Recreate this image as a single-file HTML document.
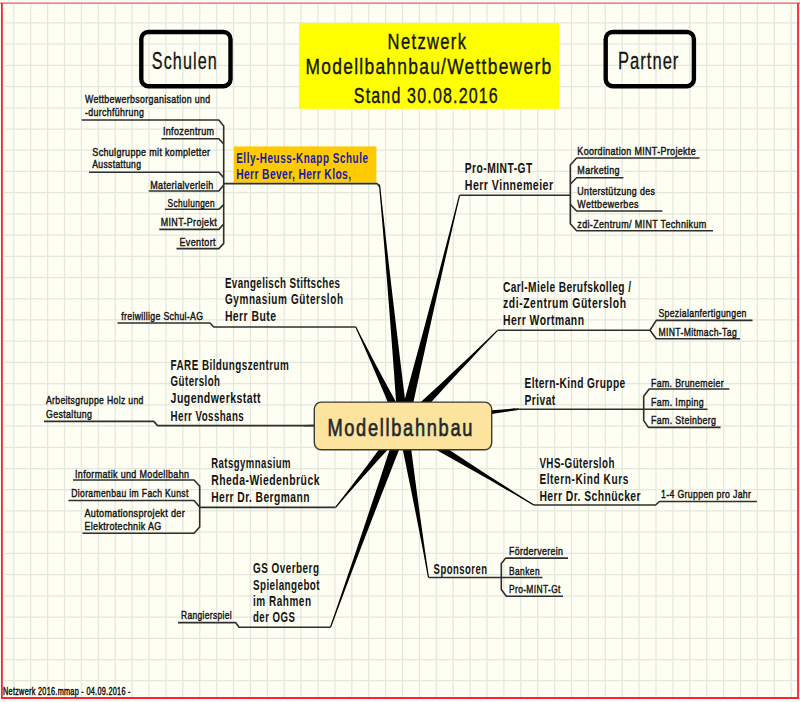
<!DOCTYPE html>
<html><head><meta charset="utf-8"><style>
html,body{margin:0;padding:0;background:#f4fff8;width:800px;height:702px;overflow:hidden;font-family:"Liberation Sans",sans-serif}
</style></head><body><svg width="800" height="702" viewBox="0 0 800 702" style="display:block;position:absolute;left:0;top:0"><rect x="2" y="3" width="796" height="695" fill="#fefef2"/><path d="M13.80 4V697 M30.70 4V697 M47.60 4V697 M64.50 4V697 M81.40 4V697 M98.30 4V697 M115.20 4V697 M132.10 4V697 M149.00 4V697 M165.90 4V697 M182.80 4V697 M199.70 4V697 M216.60 4V697 M233.50 4V697 M250.40 4V697 M267.30 4V697 M284.20 4V697 M301.10 4V697 M318.00 4V697 M334.90 4V697 M351.80 4V697 M368.70 4V697 M385.60 4V697 M402.50 4V697 M419.40 4V697 M436.30 4V697 M453.20 4V697 M470.10 4V697 M487.00 4V697 M503.90 4V697 M520.80 4V697 M537.70 4V697 M554.60 4V697 M571.50 4V697 M588.40 4V697 M605.30 4V697 M622.20 4V697 M639.10 4V697 M656.00 4V697 M672.90 4V697 M689.80 4V697 M706.70 4V697 M723.60 4V697 M740.50 4V697 M757.40 4V697 M774.30 4V697 M791.20 4V697 M4 22.90H797 M4 44.12H797 M4 65.34H797 M4 86.56H797 M4 107.78H797 M4 129.00H797 M4 150.22H797 M4 171.44H797 M4 192.66H797 M4 213.88H797 M4 235.10H797 M4 256.32H797 M4 277.54H797 M4 298.76H797 M4 319.98H797 M4 341.20H797 M4 362.42H797 M4 383.64H797 M4 404.86H797 M4 426.08H797 M4 447.30H797 M4 468.52H797 M4 489.74H797 M4 510.96H797 M4 532.18H797 M4 553.40H797 M4 574.62H797 M4 595.84H797 M4 617.06H797 M4 638.28H797 M4 659.50H797 M4 680.72H797" stroke="#e3e8df" stroke-width="1.25" fill="none"/><path d="M0 3.1H800" stroke="#ff5555" stroke-width="1.4"/><path d="M1.9 3V699M798 3V699" stroke="#ff2030" stroke-width="1.8"/><path d="M1 698H799" stroke="#ff2030" stroke-width="1.8"/><rect x="299" y="22.9" width="260" height="85.9" fill="#ffff00"/><rect x="141.3" y="32" width="89.2" height="54.2" rx="7" fill="none" stroke="#000" stroke-width="4.4"/><rect x="605.7" y="32" width="88.2" height="54.2" rx="7" fill="none" stroke="#000" stroke-width="4.4"/><polygon points="380.10,184.44 382.20,204.51 384.39,224.57 386.63,244.63 388.91,264.68 391.23,284.73 393.58,304.77 395.96,324.82 398.36,344.86 400.78,364.89 403.23,384.93 405.69,404.96 408.18,425.00 397.82,426.00 396.39,405.87 394.94,385.74 393.47,365.61 391.97,345.48 390.46,325.35 388.92,305.23 387.35,285.11 385.75,264.99 384.12,244.87 382.45,224.76 380.72,204.66 378.90,184.56" fill="#000"/><polygon points="460.08,195.44 455.51,214.66 451.03,233.90 446.60,253.15 442.21,272.41 437.85,291.68 433.53,310.96 429.22,330.24 424.95,349.53 420.69,368.83 416.46,388.13 412.25,407.43 408.05,426.74 397.95,424.26 403.17,405.20 408.37,386.14 413.56,367.07 418.72,348.00 423.86,328.92 428.97,309.84 434.06,290.75 439.12,271.65 444.15,252.55 449.14,233.43 454.07,214.31 458.92,195.16" fill="#000"/><polygon points="356.34,326.74 360.40,334.89 364.55,343.00 368.74,351.08 372.97,359.15 377.23,367.20 381.51,375.24 385.82,383.26 390.16,391.28 394.51,399.29 398.89,407.28 403.28,415.27 407.69,423.25 398.31,427.75 394.85,419.31 391.38,410.88 387.89,402.46 384.37,394.05 380.84,385.65 377.29,377.26 373.71,368.88 370.10,360.52 366.46,352.17 362.79,343.84 359.06,335.53 355.26,327.26" fill="#000"/><polygon points="498.03,330.72 490.24,338.76 482.52,346.85 474.84,354.99 467.19,363.15 459.57,371.34 451.96,379.55 444.38,387.78 436.81,396.03 429.26,404.29 421.72,412.57 414.20,420.86 406.69,429.17 399.31,421.83 407.57,414.27 415.81,406.70 424.04,399.11 432.26,391.51 440.46,383.89 448.64,376.25 456.80,368.59 464.94,360.91 473.06,353.21 481.14,345.48 489.19,337.71 497.17,329.88" fill="#000"/><polygon points="304.00,425.00 312.25,424.85 320.50,424.61 328.75,424.31 337.00,423.98 345.25,423.61 353.50,423.21 361.75,422.78 370.00,422.33 378.25,421.85 386.50,421.35 394.75,420.84 402.99,420.30 403.01,430.70 394.75,430.18 386.50,429.68 378.25,429.20 370.00,428.74 361.75,428.30 353.50,427.89 345.25,427.51 337.00,427.15 328.75,426.84 320.50,426.56 312.25,426.33 304.00,426.20" fill="#000"/><polygon points="515.09,409.59 505.77,411.11 496.48,412.71 487.18,414.37 477.90,416.07 468.62,417.80 459.34,419.57 450.07,421.36 440.80,423.17 431.54,425.01 422.27,426.87 413.01,428.75 403.76,430.64 402.24,420.36 411.65,419.50 421.06,418.63 430.46,417.74 439.87,416.83 449.26,415.89 458.66,414.93 468.05,413.95 477.44,412.93 486.82,411.88 496.19,410.79 505.56,409.64 514.91,408.41" fill="#000"/><polygon points="335.14,506.92 340.64,500.01 346.08,493.05 351.48,486.05 356.84,479.02 362.18,471.98 367.49,464.91 372.78,457.83 378.06,450.73 383.31,443.61 388.55,436.49 393.78,429.35 398.99,422.19 407.01,428.81 400.99,435.29 394.98,441.78 388.99,448.29 383.01,454.81 377.05,461.34 371.11,467.89 365.19,474.46 359.29,481.04 353.42,487.65 347.59,494.29 341.79,500.96 336.06,507.68" fill="#000"/><polygon points="533.49,505.51 522.51,499.01 511.49,492.58 500.45,486.20 489.38,479.86 478.29,473.54 467.18,467.25 456.06,460.99 444.93,454.74 433.79,448.52 422.64,442.31 411.47,436.12 400.30,429.94 405.70,421.06 416.33,428.13 426.96,435.19 437.61,442.23 448.27,449.26 458.94,456.26 469.62,463.25 480.31,470.21 491.02,477.14 501.75,484.05 512.51,490.92 523.29,497.74 534.11,504.49" fill="#000"/><polygon points="329.94,627.00 335.84,610.14 341.67,593.25 347.44,576.35 353.17,559.43 358.87,542.50 364.55,525.56 370.19,508.61 375.81,491.65 381.42,474.68 387.00,457.71 392.56,440.73 398.11,423.74 407.89,427.26 401.36,443.89 394.83,460.53 388.33,477.17 381.85,493.82 375.39,510.48 368.95,527.14 362.54,543.82 356.16,560.50 349.81,577.20 343.50,593.91 337.24,610.64 331.06,627.40" fill="#000"/><polygon points="427.91,577.60 425.64,564.96 423.29,552.33 420.88,539.71 418.43,527.10 415.95,514.49 413.44,501.89 410.90,489.29 408.34,476.70 405.75,464.11 403.14,451.52 400.52,438.94 397.87,426.36 408.13,424.64 409.73,437.39 411.36,450.14 413.00,462.89 414.66,475.64 416.35,488.38 418.06,501.11 419.80,513.84 421.57,526.57 423.37,539.29 425.21,552.01 427.11,564.71 429.09,577.40" fill="#000"/><polygon points="488,410.6 518.5,408.3 518.5,410 488,414.6" fill="#000"/><rect x="314.3" y="402.1" width="177.4" height="47.6" rx="7" fill="#fce39e" stroke="#3a3a3a" stroke-width="1.4"/><rect x="233.9" y="146.4" width="142.5" height="36.3" fill="#ffcb00"/><path d="M223.6 183.6H377L379.5 186.5" stroke="#2e2e2e" stroke-width="1.6" fill="none" stroke-linejoin="round"/><path d="M81.7 120H218.8L223.7 126V243.4L218.8 248.6H176.5" stroke="#2e2e2e" stroke-width="1.6" fill="none" stroke-linejoin="round"/><path d="M161.4 138.8H218.8L223.7 144" stroke="#2e2e2e" stroke-width="1.6" fill="none" stroke-linejoin="round"/><path d="M89 172.2H218.8L223.7 177.6" stroke="#2e2e2e" stroke-width="1.6" fill="none" stroke-linejoin="round"/><path d="M148.75 191H218.8L223.7 185" stroke="#2e2e2e" stroke-width="1.6" fill="none" stroke-linejoin="round"/><path d="M164.8 209.3H218.8L223.7 204.6" stroke="#2e2e2e" stroke-width="1.6" fill="none" stroke-linejoin="round"/><path d="M159.25 229.4H218.8L223.7 224" stroke="#2e2e2e" stroke-width="1.6" fill="none" stroke-linejoin="round"/><path d="M459.5 195.3H570.3" stroke="#2e2e2e" stroke-width="1.6" fill="none" stroke-linejoin="round"/><path d="M699.5 158H576.6L570.3 165V223.7L576.6 230.8H713" stroke="#2e2e2e" stroke-width="1.6" fill="none" stroke-linejoin="round"/><path d="M623.4 177.8H576.6L570.3 184.3" stroke="#2e2e2e" stroke-width="1.6" fill="none" stroke-linejoin="round"/><path d="M570.3 204.3L576.6 211H662.4" stroke="#2e2e2e" stroke-width="1.6" fill="none" stroke-linejoin="round"/><path d="M355.8 327H213.75L210 323H117.5" stroke="#2e2e2e" stroke-width="1.6" fill="none" stroke-linejoin="round"/><path d="M497.6 330.3H650L656.25 320.4H752.5M650 330.3L656.25 338.75H740" stroke="#2e2e2e" stroke-width="1.6" fill="none" stroke-linejoin="round"/><path d="M314 425.6H157.5L153.75 421.4H44" stroke="#2e2e2e" stroke-width="1.6" fill="none" stroke-linejoin="round"/><path d="M517 409.2H707.5" stroke="#2e2e2e" stroke-width="1.6" fill="none" stroke-linejoin="round"/><path d="M729.4 389H649.2L643.7 396.3V420.6L648.4 427.4H720.6" stroke="#2e2e2e" stroke-width="1.6" fill="none" stroke-linejoin="round"/><path d="M335.6 507.4H199.7" stroke="#2e2e2e" stroke-width="1.6" fill="none" stroke-linejoin="round"/><path d="M73 480H194L199.7 486V527L194 533.2H82.5" stroke="#2e2e2e" stroke-width="1.6" fill="none" stroke-linejoin="round"/><path d="M68.4 500.5H194L199.7 507" stroke="#2e2e2e" stroke-width="1.6" fill="none" stroke-linejoin="round"/><path d="M533.8 505H655.6L659.4 501.5H756.9" stroke="#2e2e2e" stroke-width="1.6" fill="none" stroke-linejoin="round"/><path d="M330.5 627.2H239L235.6 622.6H178" stroke="#2e2e2e" stroke-width="1.6" fill="none" stroke-linejoin="round"/><path d="M428.5 577.5H542.4" stroke="#2e2e2e" stroke-width="1.6" fill="none" stroke-linejoin="round"/><path d="M568 558.1H505.8L501.3 563.5V589.5L506.3 596.2H563" stroke="#2e2e2e" stroke-width="1.6" fill="none" stroke-linejoin="round"/><g font-family="Liberation Sans, sans-serif"><text transform="translate(387.60 48.60) scale(0.7445 1)" font-size="22.24" font-weight="normal" fill="#141414" stroke="#141414" stroke-width="0.40" textLength="105.31" lengthAdjust="spacing">Netzwerk</text><text transform="translate(305.60 74.00) scale(0.7814 1)" font-size="22.24" font-weight="normal" fill="#141414" stroke="#141414" stroke-width="0.40" textLength="314.20" lengthAdjust="spacing">Modellbahnbau/Wettbewerb</text><text transform="translate(353.80 102.60) scale(0.7217 1)" font-size="22.24" font-weight="normal" fill="#141414" stroke="#141414" stroke-width="0.40" textLength="199.52" lengthAdjust="spacing">Stand 30.08.2016</text><text transform="translate(151.80 68.60) scale(0.6710 1)" font-size="24.13" font-weight="normal" fill="#141414" stroke="#141414" stroke-width="0.30" textLength="96.88" lengthAdjust="spacing">Schulen</text><text transform="translate(618.00 68.50) scale(0.6871 1)" font-size="24.13" font-weight="normal" fill="#141414" stroke="#141414" stroke-width="0.30" textLength="87.91" lengthAdjust="spacing">Partner</text><text transform="translate(327.40 436.20) scale(0.7380 1)" font-size="24.71" font-weight="normal" fill="#1e2a2e" stroke="#1e2a2e" stroke-width="0.70" textLength="196.48" lengthAdjust="spacing">Modellbahnbau</text><text transform="translate(236.20 163.00) scale(0.6806 1)" font-size="14.53" font-weight="bold" fill="#1a1aa0" textLength="193.65" lengthAdjust="spacing">Elly-Heuss-Knapp  Schule</text><text transform="translate(236.20 179.40) scale(0.7067 1)" font-size="14.53" font-weight="bold" fill="#1a1aa0" textLength="162.45" lengthAdjust="spacing">Herr Bever, Herr Klos,</text><text transform="translate(84.90 102.50) scale(0.8091 1)" font-size="10.90" font-weight="normal" fill="#141414" stroke="#141414" stroke-width="0.42" textLength="154.85" lengthAdjust="spacing">Wettbewerbsorganisation und</text><text transform="translate(84.90 116.30) scale(0.8099 1)" font-size="10.90" font-weight="normal" fill="#141414" stroke="#141414" stroke-width="0.42" textLength="72.97" lengthAdjust="spacing">-durchführung</text><text transform="translate(162.90 134.80) scale(0.8257 1)" font-size="10.90" font-weight="normal" fill="#141414" stroke="#141414" stroke-width="0.42" textLength="61.89" lengthAdjust="spacing">Infozentrum</text><text transform="translate(92.30 155.50) scale(0.8250 1)" font-size="10.90" font-weight="normal" fill="#141414" stroke="#141414" stroke-width="0.42" textLength="142.67" lengthAdjust="spacing">Schulgruppe mit kompletter</text><text transform="translate(92.30 168.40) scale(0.7867 1)" font-size="10.90" font-weight="normal" fill="#141414" stroke="#141414" stroke-width="0.42" textLength="61.90" lengthAdjust="spacing">Ausstattung</text><text transform="translate(150.25 188.75) scale(0.8266 1)" font-size="10.90" font-weight="normal" fill="#141414" stroke="#141414" stroke-width="0.42" textLength="76.21" lengthAdjust="spacing">Materialverleih</text><text transform="translate(167.50 206.75) scale(0.7632 1)" font-size="10.90" font-weight="normal" fill="#141414" stroke="#141414" stroke-width="0.42" textLength="61.91" lengthAdjust="spacing">Schulungen</text><text transform="translate(160.75 226.25) scale(0.8182 1)" font-size="10.90" font-weight="normal" fill="#141414" stroke="#141414" stroke-width="0.42" textLength="68.38" lengthAdjust="spacing">MINT-Projekt</text><text transform="translate(179.50 245.75) scale(0.8247 1)" font-size="10.90" font-weight="normal" fill="#141414" stroke="#141414" stroke-width="0.42" textLength="43.65" lengthAdjust="spacing">Eventort</text><text transform="translate(464.80 172.70) scale(0.7063 1)" font-size="14.53" font-weight="bold" fill="#141414" textLength="95.50" lengthAdjust="spacing">Pro-MINT-GT</text><text transform="translate(464.80 190.20) scale(0.7330 1)" font-size="14.53" font-weight="bold" fill="#141414" textLength="120.46" lengthAdjust="spacing">Herr Vinnemeier</text><text transform="translate(577.35 154.90) scale(0.8217 1)" font-size="10.90" font-weight="normal" fill="#141414" stroke="#141414" stroke-width="0.42" textLength="143.97" lengthAdjust="spacing">Koordination MINT-Projekte</text><text transform="translate(577.35 173.60) scale(0.8191 1)" font-size="10.90" font-weight="normal" fill="#141414" stroke="#141414" stroke-width="0.42" textLength="51.46" lengthAdjust="spacing">Marketing</text><text transform="translate(577.35 194.50) scale(0.8153 1)" font-size="10.90" font-weight="normal" fill="#141414" stroke="#141414" stroke-width="0.42" textLength="95.12" lengthAdjust="spacing">Unterstützung des</text><text transform="translate(577.35 208.00) scale(0.8186 1)" font-size="10.90" font-weight="normal" fill="#141414" stroke="#141414" stroke-width="0.42" textLength="74.70" lengthAdjust="spacing">Wettbewerbes</text><text transform="translate(577.35 227.60) scale(0.8231 1)" font-size="10.90" font-weight="normal" fill="#141414" stroke="#141414" stroke-width="0.42" textLength="156.54" lengthAdjust="spacing">zdi-Zentrum/ MINT Technikum</text><text transform="translate(224.90 288.10) scale(0.6761 1)" font-size="14.53" font-weight="bold" fill="#141414" textLength="170.23" lengthAdjust="spacing">Evangelisch Stiftsches</text><text transform="translate(224.90 303.60) scale(0.6868 1)" font-size="14.53" font-weight="bold" fill="#141414" textLength="171.95" lengthAdjust="spacing">Gymnasium  Gütersloh</text><text transform="translate(224.90 320.50) scale(0.7176 1)" font-size="14.53" font-weight="bold" fill="#141414" textLength="71.21" lengthAdjust="spacing">Herr Bute</text><text transform="translate(121.25 319.50) scale(0.8045 1)" font-size="10.90" font-weight="normal" fill="#141414" stroke="#141414" stroke-width="0.42" textLength="101.62" lengthAdjust="spacing">freiwillige Schul-AG</text><text transform="translate(503.00 292.30) scale(0.7018 1)" font-size="14.53" font-weight="bold" fill="#141414" textLength="182.38" lengthAdjust="spacing">Carl-Miele Berufskolleg /</text><text transform="translate(503.00 308.30) scale(0.7155 1)" font-size="14.53" font-weight="bold" fill="#141414" textLength="171.91" lengthAdjust="spacing">zdi-Zentrum  Gütersloh</text><text transform="translate(503.00 324.80) scale(0.7139 1)" font-size="14.53" font-weight="bold" fill="#141414" textLength="113.47" lengthAdjust="spacing">Herr Wortmann</text><text transform="translate(658.40 317.40) scale(0.7991 1)" font-size="10.90" font-weight="normal" fill="#141414" stroke="#141414" stroke-width="0.42" textLength="110.13" lengthAdjust="spacing">Spezialanfertigungen</text><text transform="translate(658.40 336.10) scale(0.7915 1)" font-size="10.90" font-weight="normal" fill="#141414" stroke="#141414" stroke-width="0.42" textLength="98.99" lengthAdjust="spacing">MINT-Mitmach-Tag</text><text transform="translate(170.60 369.50) scale(0.6804 1)" font-size="14.53" font-weight="bold" fill="#141414" textLength="173.65" lengthAdjust="spacing">FARE Bildungszentrum</text><text transform="translate(170.60 385.60) scale(0.6693 1)" font-size="14.53" font-weight="bold" fill="#141414" textLength="73.81" lengthAdjust="spacing">Gütersloh</text><text transform="translate(170.60 403.25) scale(0.7247 1)" font-size="14.53" font-weight="bold" fill="#141414" textLength="124.18" lengthAdjust="spacing">Jugendwerkstatt</text><text transform="translate(170.60 420.50) scale(0.6702 1)" font-size="14.53" font-weight="bold" fill="#141414" textLength="109.15" lengthAdjust="spacing">Herr Vosshans</text><text transform="translate(46.00 404.20) scale(0.7952 1)" font-size="10.90" font-weight="normal" fill="#141414" stroke="#141414" stroke-width="0.42" textLength="122.49" lengthAdjust="spacing">Arbeitsgruppe Holz und</text><text transform="translate(46.00 417.50) scale(0.8097 1)" font-size="10.90" font-weight="normal" fill="#141414" stroke="#141414" stroke-width="0.42" textLength="56.69" lengthAdjust="spacing">Gestaltung</text><text transform="translate(524.50 388.10) scale(0.6990 1)" font-size="14.53" font-weight="bold" fill="#141414" textLength="144.13" lengthAdjust="spacing">Eltern-Kind Gruppe</text><text transform="translate(524.50 404.50) scale(0.7079 1)" font-size="14.53" font-weight="bold" fill="#141414" textLength="43.44" lengthAdjust="spacing">Privat</text><text transform="translate(651.00 386.60) scale(0.8019 1)" font-size="10.90" font-weight="normal" fill="#141414" stroke="#141414" stroke-width="0.42" textLength="90.54" lengthAdjust="spacing">Fam. Brunemeier</text><text transform="translate(651.00 405.50) scale(0.8083 1)" font-size="10.90" font-weight="normal" fill="#141414" stroke="#141414" stroke-width="0.42" textLength="65.13" lengthAdjust="spacing">Fam. Imping</text><text transform="translate(651.00 424.00) scale(0.8112 1)" font-size="10.90" font-weight="normal" fill="#141414" stroke="#141414" stroke-width="0.42" textLength="80.13" lengthAdjust="spacing">Fam. Steinberg</text><text transform="translate(211.20 468.10) scale(0.6577 1)" font-size="14.53" font-weight="bold" fill="#141414" textLength="120.72" lengthAdjust="spacing">Ratsgymnasium</text><text transform="translate(211.20 485.00) scale(0.7174 1)" font-size="14.53" font-weight="bold" fill="#141414" textLength="150.95" lengthAdjust="spacing">Rheda-Wiedenbrück</text><text transform="translate(211.20 501.80) scale(0.7067 1)" font-size="14.53" font-weight="bold" fill="#141414" textLength="138.97" lengthAdjust="spacing">Herr Dr. Bergmann</text><text transform="translate(75.00 477.70) scale(0.8253 1)" font-size="10.90" font-weight="normal" fill="#141414" stroke="#141414" stroke-width="0.42" textLength="138.13" lengthAdjust="spacing">Informatik und Modellbahn</text><text transform="translate(71.25 497.20) scale(0.7887 1)" font-size="10.90" font-weight="normal" fill="#141414" stroke="#141414" stroke-width="0.42" textLength="148.53" lengthAdjust="spacing">Dioramenbau im Fach Kunst</text><text transform="translate(84.40 516.60) scale(0.8322 1)" font-size="10.90" font-weight="normal" fill="#141414" stroke="#141414" stroke-width="0.42" textLength="120.53" lengthAdjust="spacing">Automationsprojekt der</text><text transform="translate(84.40 529.60) scale(0.8249 1)" font-size="10.90" font-weight="normal" fill="#141414" stroke="#141414" stroke-width="0.42" textLength="93.16" lengthAdjust="spacing">Elektrotechnik AG</text><text transform="translate(539.40 467.80) scale(0.6748 1)" font-size="14.53" font-weight="bold" fill="#141414" textLength="111.15" lengthAdjust="spacing">VHS-Gütersloh</text><text transform="translate(539.40 484.00) scale(0.6914 1)" font-size="14.53" font-weight="bold" fill="#141414" textLength="128.51" lengthAdjust="spacing">Eltern-Kind  Kurs</text><text transform="translate(539.40 501.00) scale(0.7147 1)" font-size="14.53" font-weight="bold" fill="#141414" textLength="141.59" lengthAdjust="spacing">Herr Dr. Schnücker</text><text transform="translate(661.00 498.20) scale(0.8031 1)" font-size="10.90" font-weight="normal" fill="#141414" stroke="#141414" stroke-width="0.42" textLength="112.06" lengthAdjust="spacing">1-4 Gruppen pro Jahr</text><text transform="translate(253.00 572.60) scale(0.6846 1)" font-size="14.53" font-weight="bold" fill="#141414" textLength="96.41" lengthAdjust="spacing">GS Overberg</text><text transform="translate(253.00 589.60) scale(0.6788 1)" font-size="14.53" font-weight="bold" fill="#141414" textLength="98.12" lengthAdjust="spacing">Spielangebot</text><text transform="translate(253.00 605.60) scale(0.6885 1)" font-size="14.53" font-weight="bold" fill="#141414" textLength="84.24" lengthAdjust="spacing">im Rahmen</text><text transform="translate(253.00 621.60) scale(0.6625 1)" font-size="14.53" font-weight="bold" fill="#141414" textLength="63.40" lengthAdjust="spacing">der OGS</text><text transform="translate(181.00 618.60) scale(0.7766 1)" font-size="10.90" font-weight="normal" fill="#141414" stroke="#141414" stroke-width="0.42" textLength="65.15" lengthAdjust="spacing">Rangierspiel</text><text transform="translate(433.60 573.60) scale(0.6543 1)" font-size="14.53" font-weight="bold" fill="#141414" textLength="81.62" lengthAdjust="spacing">Sponsoren</text><text transform="translate(509.00 555.00) scale(0.8127 1)" font-size="10.90" font-weight="normal" fill="#141414" stroke="#141414" stroke-width="0.42" textLength="66.44" lengthAdjust="spacing">Förderverein</text><text transform="translate(509.00 575.00) scale(0.7698 1)" font-size="10.90" font-weight="normal" fill="#141414" stroke="#141414" stroke-width="0.42" textLength="39.75" lengthAdjust="spacing">Banken</text><text transform="translate(509.00 593.00) scale(0.7739 1)" font-size="10.90" font-weight="normal" fill="#141414" stroke="#141414" stroke-width="0.42" textLength="66.42" lengthAdjust="spacing">Pro-MINT-Gt</text><text transform="translate(3.00 695.00) scale(0.7181 1)" font-size="10.17" font-weight="normal" fill="#0a0a0a" stroke="#0a0a0a" stroke-width="0.40" textLength="177.55" lengthAdjust="spacing">Netzwerk 2016.mmap - 04.09.2016 -</text></g></svg></body></html>
